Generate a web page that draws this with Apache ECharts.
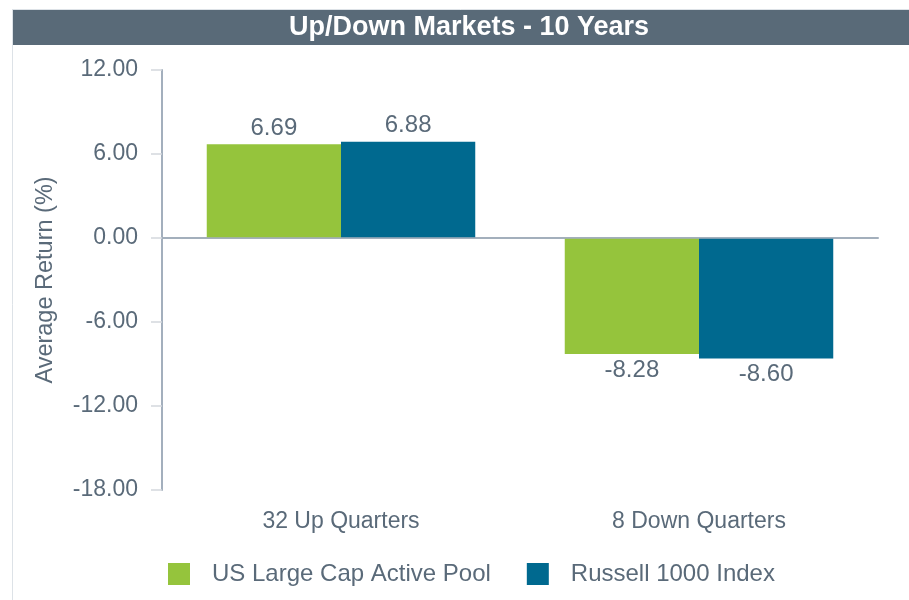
<!DOCTYPE html>
<html>
<head>
<meta charset="utf-8">
<script src="https://cdn.jsdelivr.net/npm/echarts@6/dist/echarts.min.js"></script>
<style>
  html, body { margin: 0; padding: 0; background: #fff; }
  #chart { width: 909px; height: 600px; }
</style>
</head>
<body>
<div id="chart"></div>
<script>
var categories = ['32 Up Quarters', '8 Down Quarters'];
var seriesNames = ['US Large Cap Active Pool', 'Russell 1000 Index'];
var poolValues = [6.69, -8.28];
var indexValues = [6.88, -8.60];
var yTicks = { min: -18, max: 12, step: 6 };

var textColor = '#5a6a79';
var axisColor = '#a3afbd';
var tickColor = '#d3d8dd';
var colors = ['#95c43c', '#00698f'];
var FONT = '"Liberation Sans", Arial, sans-serif';

function toItems(arr) {
  return arr.map(function (v) {
    return { value: v, label: { position: v < 0 ? 'bottom' : 'top' } };
  });
}

function makeSeries(name, values, color, withZero) {
  var s = {
    name: name,
    type: 'bar',
    data: toItems(values),
    barGap: '0%',
    barCategoryGap: '25%',
    itemStyle: { color: color },
    label: {
      show: true,
      distance: 4,
      color: textColor,
      fontFamily: FONT,
      fontSize: 24,
      formatter: function (p) { return p.value.toFixed(2); }
    }
  };
  if (withZero) {
    s.markLine = {
      silent: true,
      symbol: 'none',
      label: { show: false },
      lineStyle: { color: axisColor, width: 1.5, type: 'solid' },
      data: [{ yAxis: 0 }]
    };
  }
  return s;
}

var chart = echarts.init(document.getElementById('chart'));
chart.setOption({
  animation: false,
  textStyle: { fontFamily: FONT },
  graphic: [
    { type: 'line', shape: { x1: 12.5, y1: 9.5, x2: 12.5, y2: 600 }, style: { stroke: '#dde2e7', lineWidth: 1 } },
    { type: 'line', shape: { x1: 12, y1: 9.5, x2: 909, y2: 9.5 }, style: { stroke: '#dde2e7', lineWidth: 1 } },
    { type: 'rect', shape: { x: 13, y: 10, width: 896, height: 35 }, style: { fill: '#596a78' } },
    { type: 'text', x: 469, y: 28, style: { text: 'Up/Down Markets - 10 Years', fill: '#fff', font: 'bold 27px ' + FONT, textAlign: 'center', textVerticalAlign: 'middle' } }
  ],
  legend: {
    left: 168,
    bottom: 14,
    padding: 0,
    itemWidth: 22,
    itemHeight: 22,
    itemGap: 36,
    textStyle: { color: textColor, fontSize: 24, fontFamily: FONT, padding: [0, 0, 0, 17] },
    data: seriesNames.map(function (n) { return { name: n, icon: 'rect' }; })
  },
  grid: { left: 162, right: 31, top: 70, bottom: 110, containLabel: false },
  xAxis: {
    type: 'category',
    data: categories,
    axisLine: { lineStyle: { color: axisColor, width: 2 } },
    axisTick: { alignWithLabel: true, length: 12, lineStyle: { color: tickColor, width: 1.5 } },
    axisLabel: { color: textColor, fontSize: 23, fontFamily: FONT, margin: 20 }
  },
  yAxis: {
    type: 'value',
    min: yTicks.min,
    max: yTicks.max,
    interval: yTicks.step,
    name: 'Average Return (%)',
    nameLocation: 'middle',
    nameGap: 104,
    nameTextStyle: { color: textColor, fontSize: 23.5, fontFamily: FONT },
    axisLine: { show: true, lineStyle: { color: axisColor, width: 2 } },
    axisTick: { show: true, length: 11, lineStyle: { color: tickColor, width: 1.5 } },
    splitLine: { show: false },
    axisLabel: {
      color: textColor, fontSize: 23, fontFamily: FONT, margin: 24,
      formatter: function (v) { return v.toFixed(2); }
    }
  },
  series: [
    makeSeries(seriesNames[0], poolValues, colors[0], true),
    makeSeries(seriesNames[1], indexValues, colors[1], false)
  ]
});
</script>
</body>
</html>
